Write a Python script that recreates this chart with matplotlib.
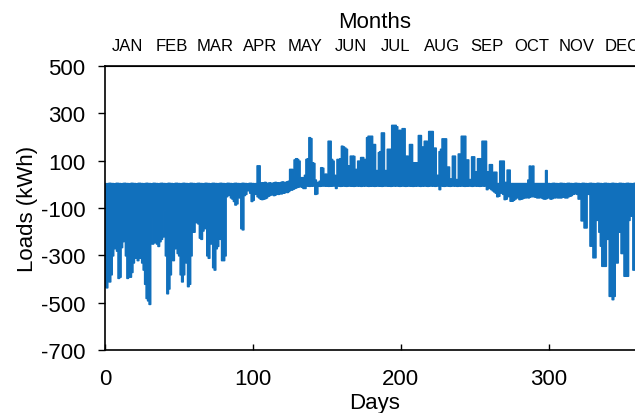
import matplotlib
matplotlib.use('Agg')
import matplotlib.pyplot as plt
import numpy as np

plt.rcParams['font.family'] = ['Liberation Sans', 'DejaVu Sans']
plt.rcParams['axes.unicode_minus'] = False

# daily peak heating (negative) and cooling (positive) loads, kWh
heat_peak = [
    -430, -435, -400, -410, -380, -300, -270, -190, -280, -395,
    -390, -265, -240, -190, -300, -395, -380, -390, -370, -330,
    -310, -280, -320, -300, -310, -330, -360, -420, -480, -490,
    -505, -140, -250, -245, -230, -250, -260, -240, -230, -220,
    -110, -300, -460, -440, -380, -300, -320, -270, -260, -290,
    -300, -380, -410, -380, -310, -330, -430, -420, -300, -200,
    -200, -110, -160, -165, -225, -230, -195, -185, -180, -300,
    -310, -250, -245, -350, -360, -270, -260, -200, -230, -320,
    -320, -300, -50, -45, -40, -55, -60, -70, -85, -80,
    -50, -55, -185, -190, -45, -40, -25, -20, -35, -70,
    -65, -40, -35, -50, -55, -60, -62, -60, -58, -55,
    -48, -45, -42, -40, -45, -42, -38, -40, -36, -38,
    -35, -34, -30, -32, -28, -20, -22, -18, -15, -12,
    -10, -8, -6, -10, -15, -15, -5, -4, -6, -5,
    -4, -5, -40, -38, -5, -6, -4, -5, -5, -4,
    -5, -6, -5, -4, -5, -5, -15, -5, -4, -6,
    -5, -5, -4, -6, -5, -5, -4, -5, -6, -5,
    -5, -4, -5, -6, -5, -4, -5, -5, -6, -5,
    -4, -5, -6, -5, -5, -4, -5, -6, -5, -5,
    -5, -4, -5, -6, -5, -5, -4, -5, -5, -6,
    -5, -5, -4, -6, -5, -5, -4, -5, -6, -5,
    -4, -5, -5, -6, -5, -4, -5, -5, -6, -5,
    -5, -4, -5, -6, -5, -5, -20, -5, -4, -6,
    -5, -5, -4, -6, -5, -5, -4, -5, -6, -5,
    -4, -5, -5, -6, -5, -4, -5, -5, -6, -5,
    -5, -4, -5, -6, -5, -5, -4, -5, -20, -10,
    -15, -20, -25, -30, -35, -50, -48, -30, -35, -40,
    -62, -60, -45, -50, -69, -69, -65, -60, -55, -55,
    -62, -60, -58, -55, -55, -50, -55, -52, -48, -50,
    -50, -52, -55, -55, -50, -55, -58, -60, -58, -55,
    -55, -60, -58, -55, -55, -52, -55, -55, -55, -52,
    -50, -55, -55, -50, -48, -45, -40, -38, -35, -40,
    -60, -55, -152, -150, -182, -182, -20, -40, -259, -259,
    -308, -308, -150, -13, -200, -259, -344, -344, -344, -230,
    -230, -471, -471, -485, -471, -330, -330, -200, -200, -290,
    -290, -386, -386, -386, -150, -132, -130, -360, -360, -300,
    -280, -400, -350, -420, -380,
]

cool_peak = [
    5, 4, 5, 6, 5, 5, 4, 5, 6, 5,
    5, 4, 5, 6, 5, 5, 4, 5, 6, 5,
    5, 4, 5, 6, 5, 5, 4, 5, 6, 5,
    5, 4, 5, 6, 5, 5, 4, 5, 6, 5,
    5, 4, 5, 6, 5, 5, 4, 5, 6, 5,
    5, 4, 5, 6, 5, 5, 4, 5, 6, 5,
    5, 4, 5, 6, 5, 5, 4, 5, 6, 5,
    5, 4, 5, 6, 5, 5, 4, 5, 6, 5,
    5, 4, 5, 6, 5, 5, 4, 5, 6, 5,
    5, 4, 5, 6, 5, 5, 4, 5, 6, 5,
    5, 4, 5, 80, 80, 8, 6, 8, 10, 6,
    5, 8, 6, 5, 8, 10, 8, 6, 8, 10,
    12, 8, 10, 12, 15, 65, 65, 40, 105, 110,
    107, 100, 30, 30, 10, 40, 107, 110, 199, 195,
    93, 90, 20, 10, 10, 15, 72, 70, 40, 45,
    40, 184, 184, 107, 100, 40, 20, 107, 107, 110,
    163, 160, 155, 150, 79, 80, 121, 121, 120, 65,
    65, 100, 100, 115, 115, 107, 107, 199, 205, 205,
    205, 170, 170, 60, 60, 136, 140, 219, 219, 60,
    60, 150, 150, 150, 251, 251, 251, 245, 191, 230,
    190, 237, 237, 121, 121, 85, 170, 170, 93, 93,
    93, 93, 208, 208, 160, 160, 184, 184, 100, 225,
    225, 225, 155, 155, 40, 40, 140, 150, 194, 194,
    194, 75, 75, 25, 25, 121, 121, 22, 22, 130,
    130, 205, 205, 205, 105, 105, 22, 22, 118, 118,
    55, 55, 110, 110, 45, 184, 184, 184, 55, 55,
    85, 85, 15, 53, 53, 5, 5, 100, 100, 100,
    10, 10, 62, 62, 5, 5, 5, 5, 5, 5,
    5, 5, 5, 5, 5, 5, 20, 79, 20, 79,
    5, 5, 5, 5, 5, 5, 5, 5, 60, 5,
    5, 4, 5, 6, 5, 5, 4, 5, 6, 5,
    5, 4, 5, 6, 5, 5, 4, 5, 6, 5,
    5, 4, 5, 6, 5, 5, 4, 5, 6, 5,
    5, 4, 5, 6, 5, 5, 4, 5, 6, 5,
    5, 4, 5, 6, 5, 5, 4, 5, 6, 5,
    5, 4, 5, 6, 5, 5, 4, 5, 6, 5,
    5, 4, 5, 6, 5,
]

months = ['JAN', 'FEB', 'MAR', 'APR', 'MAY', 'JUN',
          'JUL', 'AUG', 'SEP', 'OCT', 'NOV', 'DEC']
month_days = [31, 28, 31, 30, 31, 30, 31, 31, 30, 31, 30, 31]

days = np.arange(len(heat_peak))
blue = '#1170bc'

fig = plt.figure(figsize=(6.35, 4.14), dpi=100)
# axes run past the right edge of the figure
ax = fig.add_axes([105/635, 1 - 351/414, 540/635, 284/414])

ax.fill_between(days, heat_peak, cool_peak, step='mid',
                facecolor=blue, edgecolor=blue, linewidth=1.2)

ax.set_xlim(0, 365)
ax.set_ylim(-700, 500)
ax.set_xticks([0, 100, 200, 300])
ax.set_yticks(np.arange(-700, 501, 200))
ax.tick_params(axis='x', direction='in', length=4, width=1, pad=13, labelsize=16)
ax.tick_params(axis='y', direction='out', length=5, width=1, pad=9, labelsize=16)
for s in ax.spines.values():
    s.set_linewidth(1.2)
ax.set_xlabel('Days', fontsize=16, labelpad=2)
ax.set_ylabel('Loads (kWh)', fontsize=16, labelpad=2)

# month names along the top
ends = np.cumsum(month_days)
mids = ends - np.array(month_days) / 2.0
top = ax.secondary_xaxis('top')
top.set_xticks(mids, labels=months)
top.tick_params(length=0, pad=9, labelsize=12)
top.set_xlabel('Months', fontsize=16, labelpad=8)

fig.savefig('out.png', dpi=100)
